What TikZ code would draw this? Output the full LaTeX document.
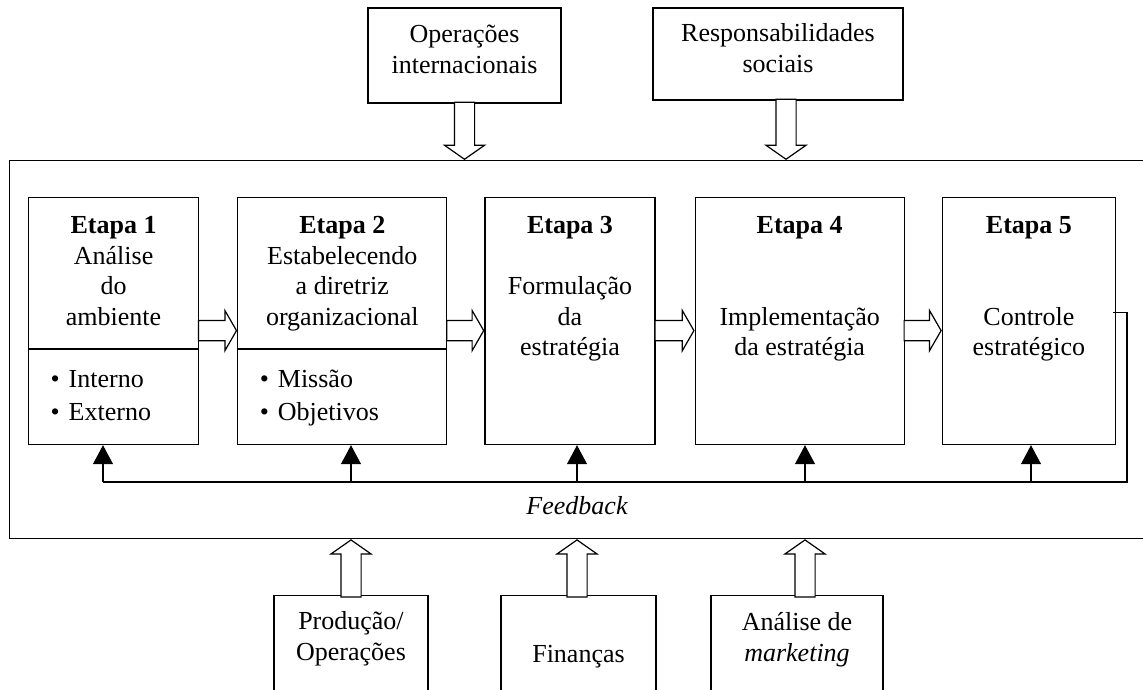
\documentclass[tikz,border=0pt]{standalone}
\usepackage{fontspec}
\setmainfont{Liberation Serif}
\usetikzlibrary{shapes.arrows,positioning,calc,arrows.meta}
\newcommand{\boxtext}[4]{\parbox[c][#2][t]{#1}{\centering\rule{0pt}{#3}#4}}

\begin{document}
\begin{tikzpicture}[x=1pt, y=-1pt, font={\fontsize{26}{30.5}\selectfont},
  box/.style={draw, line width=1.2pt, inner sep=0pt},
  hollow/.style={single arrow, draw, fill=white, line width=1.2pt, inner xsep=0pt, inner ysep=9.5pt, minimum width=39pt, single arrow head extend=10pt},
  fb/.style={line width=1.2pt, -{Triangle[length=19pt, width=20pt]}}]
\useasboundingbox (0,0) rectangle (1143,690);
\clip (0,0) rectangle (1143,690);

% Environment frame and outside forces

\node[box, minimum width=1151pt, minimum height=378pt, anchor=north west] (frame) at (9,160) {};

\node[box] (ops) at (464.5,55.5) {\boxtext{193pt}{95pt}{35pt}{Operações\\internacionais}};
\node[box] (resp) at (778,54) {\boxtext{250pt}{92pt}{34pt}{Responsabilidades\\sociais}};

\node[box, anchor=north] (prod) at (351,595) {\boxtext{154pt}{105pt}{34pt}{Produção/\\Operações}};
\node[box, anchor=north] (fin) at (578.5,595) {\boxtext{155pt}{105pt}{67pt}{Finanças}};
\node[box, anchor=north] (mkt) at (797,595) {\boxtext{172pt}{105pt}{35pt}{Análise de\\\textit{marketing}}};

% Stages

\node[box, anchor=north west] (s1) at (28,197) {\boxtext{170pt}{247pt}{36pt}{\textbf{Etapa 1}\\Análise\\do\\ambiente\par
  \vspace{32pt}\raggedright\hspace*{22pt}•\hspace{9pt}Interno\\[2.5pt]\hspace*{22pt}•\hspace{9pt}Externo}};
\node[box, right=38pt of s1] (s2) {\boxtext{209pt}{247pt}{36pt}{\textbf{Etapa 2}\\Estabelecendo\\a diretriz\\organizacional\par
  \vspace{32pt}\raggedright\hspace*{22pt}•\hspace{9pt}Missão\\[2.5pt]\hspace*{22pt}•\hspace{9pt}Objetivos}};
\node[box, right=37pt of s2] (s3) {\boxtext{170pt}{247pt}{36pt}{\textbf{Etapa 3}\\[30.5pt]Formulação\\da\\estratégia}};
\node[box, right=39pt of s3] (s4) {\boxtext{209pt}{247pt}{36pt}{\textbf{Etapa 4}\\[61pt]Implementação\\da estratégia}};
\node[box, right=37pt of s4] (s5) {\boxtext{173pt}{247pt}{36pt}{\textbf{Etapa 5}\\[61pt]Controle\\estratégico}};

\draw[line width=1.2pt] ([yshift=-152pt]s1.north west) -- ([yshift=-152pt]s1.north east);
\draw[line width=1.2pt] ([yshift=-152pt]s2.north west) -- ([yshift=-152pt]s2.north east);

% Flow between stages

\node[hollow, single arrow tip angle=120, minimum height=38pt, anchor=tip] at ([yshift=-9.5pt]s2.west) {};
\node[hollow, single arrow tip angle=120, minimum height=37pt, anchor=tip] at ([yshift=-9.5pt]s3.west) {};
\node[hollow, single arrow tip angle=120, minimum height=39pt, anchor=tip] at ([yshift=-9.5pt]s4.west) {};
\node[hollow, single arrow tip angle=120, minimum height=37pt, anchor=tip] at ([yshift=-9.5pt]s5.west) {};

% Inputs into the frame

\node[hollow, single arrow tip angle=110, minimum height=57pt, rotate=-90, anchor=tip] at (ops.south |- frame.north) {};
\node[hollow, single arrow tip angle=110, minimum height=60pt, rotate=-90, anchor=tip] at ([xshift=8pt]resp.south |- frame.north) {};
\node[hollow, single arrow tip angle=110, minimum height=57pt, rotate=90, anchor=tip] at (prod.north |- frame.south) {};
\node[hollow, single arrow tip angle=110, minimum height=57pt, rotate=90, anchor=tip] at ([xshift=-1.5pt]fin.north |- frame.south) {};
\node[hollow, single arrow tip angle=110, minimum height=57pt, rotate=90, anchor=tip] at ([xshift=8pt]mkt.north |- frame.south) {};

% Feedback

\coordinate (fbr) at (1127,482);
\coordinate (fb1) at (103,482);
\coordinate (fb2) at (351,482);
\coordinate (fb3) at (577,482);
\coordinate (fb4) at (805,482);
\coordinate (fb5) at (1031,482);

\draw[line width=1.2pt] ([xshift=-3pt,yshift=8.5pt]s5.east) -| (fbr) -- (fb1);
\draw[fb] (fb1) -- (fb1 |- s1.south);
\draw[fb] (fb2) -- (fb2 |- s2.south);
\draw[fb] (fb3) -- (fb3 |- s3.south);
\draw[fb] (fb4) -- (fb4 |- s4.south);
\draw[fb] (fb5) -- (fb5 |- s5.south);

\node[anchor=base] (fbtext) at (577,514) {\itshape Feedback};
\end{tikzpicture}
\end{document}
